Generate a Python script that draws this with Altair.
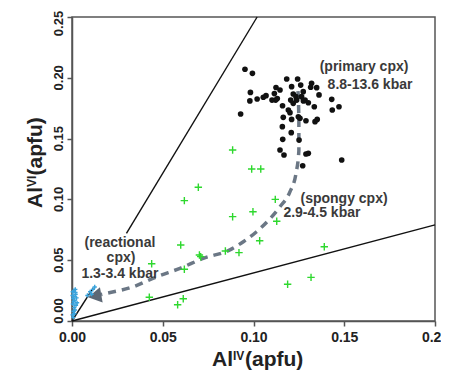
import altair as alt
import pandas as pd

FONT = "Liberation Sans"

# ---------------- data ----------------
primary_x = [0.0953, 0.0994, 0.1183, 0.1243, 0.0983, 0.0980, 0.1020, 0.1054, 0.1069,
             0.1124, 0.1146, 0.1115, 0.1131, 0.1122, 0.1210, 0.1260, 0.1219, 0.1234,
             0.1274, 0.1320, 0.1315, 0.1348, 0.1361, 0.1205, 0.1219, 0.1265, 0.1284,
             0.1302, 0.1335, 0.1431, 0.1471, 0.1434, 0.0929, 0.1192, 0.1201, 0.1164,
             0.1210, 0.1247, 0.1256, 0.1289, 0.1339, 0.1351, 0.1159, 0.1208, 0.1161,
             0.1251, 0.1146, 0.1168, 0.1289, 0.1302, 0.1271, 0.1486, 0.1102, 0.1238,
             0.1275, 0.1160]
primary_y = [0.2070, 0.2037, 0.1990, 0.1990, 0.1880, 0.1810, 0.1826, 0.1840, 0.1853,
             0.1920, 0.1900, 0.1870, 0.1830, 0.1817, 0.1927, 0.1940, 0.1867, 0.1845,
             0.1886, 0.1955, 0.1922, 0.1919, 0.1859, 0.1817, 0.1790, 0.1845, 0.1817,
             0.1795, 0.1762, 0.1823, 0.1762, 0.1735, 0.1702, 0.1735, 0.1713, 0.1675,
             0.1658, 0.1680, 0.1667, 0.1647, 0.1639, 0.1658, 0.1598, 0.1549, 0.1494,
             0.1488, 0.1406, 0.1365, 0.1373, 0.1379, 0.1277, 0.1324, 0.1817, 0.1817,
             0.1810, 0.1770]

spongy_x = [0.0885, 0.0990, 0.1040, 0.0696, 0.0619, 0.1120, 0.0885, 0.0997, 0.1128,
            0.0599, 0.1034, 0.0845, 0.0920, 0.0702, 0.0709, 0.0439, 0.0619, 0.0426,
            0.0613, 0.0582, 0.1188, 0.1390, 0.1317]
spongy_y = [0.1406, 0.1250, 0.1250, 0.1100, 0.0990, 0.1000, 0.0858, 0.0899, 0.0820,
            0.0625, 0.0660, 0.0576, 0.0562, 0.0543, 0.0529, 0.0471, 0.0425, 0.0195,
            0.0183, 0.0134, 0.0302, 0.0611, 0.0359]

reac_x = [0.0003, 0.0008, 0.0012, 0.0005, 0.0015, 0.0010, 0.0020, 0.0004, 0.0018,
          0.0025, 0.0007, 0.0013, 0.0022, 0.0009, 0.0016, 0.0003, 0.0011, 0.0028,
          0.0006, 0.0019, 0.0085, 0.0100, 0.0115, 0.0125, 0.0108]
reac_y = [0.0050, 0.0080, 0.0110, 0.0140, 0.0170, 0.0200, 0.0220, 0.0240, 0.0260,
          0.0190, 0.0030, 0.0060, 0.0130, 0.0160, 0.0090, 0.0210, 0.0250, 0.0150,
          0.0185, 0.0235, 0.0210, 0.0240, 0.0260, 0.0280, 0.0220]

# reference lines through the origin (segment id, x, y)
ref_seg = ["a", "a", "b", "b", "c", "c"]
ref_x = [0.0, 0.0116, 0.0300, 0.1020, 0.0, 0.2000]
ref_y = [0.0, 0.0270, 0.0720, 0.2500, 0.0, 0.0790]

# evolution trend (dashed arrow)
trend_x = [0.1245, 0.1250, 0.1250, 0.1235, 0.1200, 0.1146, 0.1090, 0.1017, 0.0944,
           0.0870, 0.0723, 0.0595, 0.0467, 0.0338, 0.0191, 0.0160]
trend_y = [0.1890, 0.1650, 0.1400, 0.1220, 0.1060, 0.0940, 0.0840, 0.0734, 0.0652,
           0.0585, 0.0515, 0.0433, 0.0364, 0.0282, 0.0228, 0.0218]
arrow_x = [0.0125]
arrow_y = [0.0205]

note_text = ["(primary cpx)", "8.8-13.6 kbar", "(spongy cpx)", "2.9-4.5 kbar",
             "(reactional", "cpx)", "1.3-3.4 kbar"]
note_x = [0.1609, 0.1642, 0.1499, 0.1377, 0.0264, 0.0270, 0.0264]
note_y = [0.2091, 0.1941, 0.1003, 0.0888, 0.0641, 0.0518, 0.0387]

x_ticks = [0.0, 0.05, 0.10, 0.15, 0.20]
y_ticks = [0.0, 0.05, 0.10, 0.15, 0.20, 0.25]
y_tick_labels = ["0.00", "0.05", "0.10", "0.15", "0.20", "0.25"]

# axis title pieces (text, pixel x, pixel y, font size, angle)
title_text = ["Al", "IV", "(apfu)", "Al", "VI", "(apfu)"]
title_px = [140, 161, 173, -30, -36.5, -30]
title_py = [349, 343, 349, 191, 170, 158.5]
title_fs = [21, 12, 21, 21, 12, 21]
title_ang = [0, 0, 0, 270, 270, 270]

# ---------------- chart ----------------
W, H = 363, 304
xs = alt.Scale(domain=[0, 0.2], nice=False, zero=False)
ys = alt.Scale(domain=[0, 0.25], nice=False, zero=False)

ax_common = dict(grid=False, domainColor="#555", domainWidth=1.5, tickColor="#555",
                 tickWidth=1.5, tickSize=5, labelFont=FONT, labelFontWeight="bold",
                 labelColor="#222", format=".2f", title=None)
x_axis = alt.Axis(values=x_ticks, labelFontSize=14, labelPadding=4, labelFlush=False,
                  **ax_common)
y_axis = alt.Axis(values=y_ticks, labels=False, **ax_common)


def X(f):
    return alt.X(f, type="quantitative", scale=xs, axis=x_axis)


def Y(f):
    return alt.Y(f, type="quantitative", scale=ys, axis=y_axis)


ref_df = pd.DataFrame({"seg": ref_seg, "x": ref_x, "y": ref_y})
lines = alt.Chart(ref_df).mark_line(color="#111", strokeWidth=1.4).encode(
    x=X("x"), y=Y("y"), detail="seg:N")

reac = alt.Chart(pd.DataFrame({"x": reac_x, "y": reac_y})).mark_point(
    shape="M-1,0L1,0M0,-1L0,1", filled=False, color="#3aa3dc", strokeWidth=1.4,
    size=18, opacity=1).encode(x=X("x"), y=Y("y"))

spongy = alt.Chart(pd.DataFrame({"x": spongy_x, "y": spongy_y})).mark_point(
    shape="M-1,0L1,0M0,-1L0,1", filled=False, color="#2ed82e", strokeWidth=1.4,
    size=55, opacity=1).encode(x=X("x"), y=Y("y"))

primary = alt.Chart(pd.DataFrame({"x": primary_x, "y": primary_y})).mark_circle(
    color="#111", size=32, opacity=1).encode(x=X("x"), y=Y("y"))

trend_df = pd.DataFrame({"x": trend_x, "y": trend_y, "o": list(range(len(trend_x)))})
trend = alt.Chart(trend_df).mark_line(
    color="#6b7785", strokeWidth=3.5, strokeDash=[8, 6], interpolate="monotone").encode(
    x=X("x"), y=Y("y"), order="o:Q")

arrow = alt.Chart(pd.DataFrame({"x": arrow_x, "y": arrow_y})).mark_point(
    shape="triangle-left", filled=True, color="#5d6875", size=240, angle=350,
    opacity=1).encode(x=X("x"), y=Y("y"))

notes = alt.Chart(pd.DataFrame({"t": note_text, "x": note_x, "y": note_y})).mark_text(
    font=FONT, fontWeight="bold", fontSize=14, color="#3a3a3a", align="center",
    baseline="middle").encode(x=X("x"), y=Y("y"), text="t:N")

# vertical y tick labels (end labels nudged inwards, as in the reference)
ylab_df = pd.DataFrame({"v": y_ticks, "t": y_tick_labels})
ylab_base = alt.Chart(ylab_df)
ylab_style = dict(font=FONT, fontWeight="bold", fontSize=13, color="#222",
                  align="center", baseline="alphabetic", angle=270)
ylab_mid = ylab_base.transform_filter("datum.v > 0.001 && datum.v < 0.249").mark_text(
    **ylab_style).encode(x=alt.value(-9), y=Y("v"), text="t:N")
ylab_top = ylab_base.transform_filter("datum.v >= 0.249").mark_text(
    dx=-6.5, **ylab_style).encode(x=alt.value(-9), y=Y("v"), text="t:N")
ylab_bot = ylab_base.transform_filter("datum.v <= 0.001").mark_text(
    dx=10, **ylab_style).encode(x=alt.value(-9), y=Y("v"), text="t:N")

layers = [lines, trend, arrow, spongy, reac, primary, notes, ylab_mid, ylab_top, ylab_bot]
one = pd.DataFrame({"k": [0]})
for t, px, py, fs, ang in zip(title_text, title_px, title_py, title_fs, title_ang):
    layers.append(
        alt.Chart(one).mark_text(
            font=FONT, fontWeight="bold", color="#222", align="left",
            baseline="alphabetic", fontSize=fs, angle=ang, text=t
        ).encode(x=alt.value(px), y=alt.value(py))
    )

chart = alt.layer(*layers).properties(
    width=W, height=H,
    autosize=alt.AutoSizeParams(type="none"),
    padding={"left": 64, "top": 9, "right": 6, "bottom": 49},
).configure_view(stroke="#555", strokeWidth=1.5)

chart.save("out.html", embed_options={"renderer": "svg", "actions": False})
